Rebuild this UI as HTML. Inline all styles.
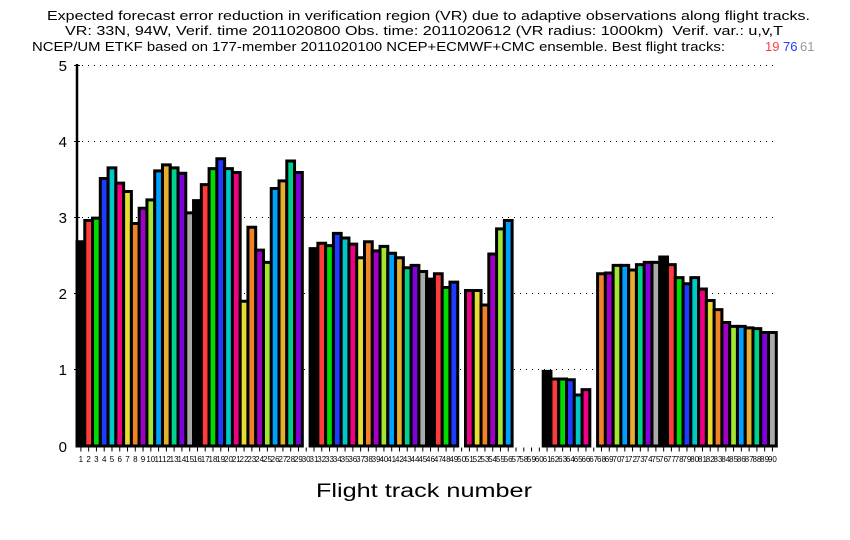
<!DOCTYPE html>
<html><head><meta charset="utf-8"><style>
html,body{margin:0;padding:0;background:#fff;}
svg{display:block;}
.t{font-family:"Liberation Sans",sans-serif;font-size:13px;fill:#000;}
.xl{font-family:"Liberation Sans",sans-serif;font-size:8px;fill:#000;text-anchor:middle;}
.yl{font-family:"Liberation Sans",sans-serif;font-size:15px;fill:#000;text-anchor:end;}
</style></head><body>
<svg width="850" height="540" viewBox="0 0 850 540" xmlns="http://www.w3.org/2000/svg">
<rect width="850" height="540" fill="#fff"/>
<text class="t" x="47" y="20" textLength="763" lengthAdjust="spacingAndGlyphs">Expected forecast error reduction in verification region (VR) due to adaptive observations along flight tracks.</text>
<text class="t" x="65" y="35" textLength="718" lengthAdjust="spacingAndGlyphs">VR: 33N, 94W, Verif. time 2011020800 Obs. time: 2011020612 (VR radius: 1000km)&#160; Verif. var.: u,v,T</text>
<text class="t" x="32" y="51" textLength="693" lengthAdjust="spacingAndGlyphs">NCEP/UM ETKF based on 177-member 2011020100 NCEP+ECMWF+CMC ensemble. Best flight tracks:</text>
<text class="t" x="765" y="51" style="fill:#ff3c3c">19</text>
<text class="t" x="783" y="51" style="fill:#1e3cff">76</text>
<text class="t" x="800" y="51" style="fill:#999">61</text>

<g stroke="#000" stroke-width="1" stroke-dasharray="1 5">
<line x1="82" y1="65.5" x2="778" y2="65.5"/>
<line x1="82" y1="141.5" x2="778" y2="141.5"/>
<line x1="82" y1="217.5" x2="778" y2="217.5"/>
<line x1="82" y1="293.5" x2="778" y2="293.5"/>
<line x1="82" y1="369.5" x2="778" y2="369.5"/>
</g>

<g transform="translate(77 446) scale(7.77 -76.2)">
<g stroke="#000" stroke-width="3" stroke-linejoin="miter">
<rect x="0" width="1" height="2.68" fill="#000" vector-effect="non-scaling-stroke"/>
<rect x="1" width="1" height="2.96" fill="#ff3c3c" vector-effect="non-scaling-stroke"/>
<rect x="2" width="1" height="2.99" fill="#00dc00" vector-effect="non-scaling-stroke"/>
<rect x="3" width="1" height="3.51" fill="#1e3cff" vector-effect="non-scaling-stroke"/>
<rect x="4" width="1" height="3.65" fill="#00c8c8" vector-effect="non-scaling-stroke"/>
<rect x="5" width="1" height="3.45" fill="#f00082" vector-effect="non-scaling-stroke"/>
<rect x="6" width="1" height="3.34" fill="#e6dc32" vector-effect="non-scaling-stroke"/>
<rect x="7" width="1" height="2.92" fill="#f08228" vector-effect="non-scaling-stroke"/>
<rect x="8" width="1" height="3.12" fill="#a000c8" vector-effect="non-scaling-stroke"/>
<rect x="9" width="1" height="3.23" fill="#a0e632" vector-effect="non-scaling-stroke"/>
<rect x="10" width="1" height="3.61" fill="#00a0ff" vector-effect="non-scaling-stroke"/>
<rect x="11" width="1" height="3.69" fill="#e6af2d" vector-effect="non-scaling-stroke"/>
<rect x="12" width="1" height="3.65" fill="#00d28c" vector-effect="non-scaling-stroke"/>
<rect x="13" width="1" height="3.58" fill="#8200dc" vector-effect="non-scaling-stroke"/>
<rect x="14" width="1" height="3.06" fill="#aaaaaa" vector-effect="non-scaling-stroke"/>
<rect x="15" width="1" height="3.22" fill="#000" vector-effect="non-scaling-stroke"/>
<rect x="16" width="1" height="3.43" fill="#ff3c3c" vector-effect="non-scaling-stroke"/>
<rect x="17" width="1" height="3.64" fill="#00dc00" vector-effect="non-scaling-stroke"/>
<rect x="18" width="1" height="3.77" fill="#1e3cff" vector-effect="non-scaling-stroke"/>
<rect x="19" width="1" height="3.64" fill="#00c8c8" vector-effect="non-scaling-stroke"/>
<rect x="20" width="1" height="3.59" fill="#f00082" vector-effect="non-scaling-stroke"/>
<rect x="21" width="1" height="1.90" fill="#e6dc32" vector-effect="non-scaling-stroke"/>
<rect x="22" width="1" height="2.87" fill="#f08228" vector-effect="non-scaling-stroke"/>
<rect x="23" width="1" height="2.57" fill="#a000c8" vector-effect="non-scaling-stroke"/>
<rect x="24" width="1" height="2.41" fill="#a0e632" vector-effect="non-scaling-stroke"/>
<rect x="25" width="1" height="3.38" fill="#00a0ff" vector-effect="non-scaling-stroke"/>
<rect x="26" width="1" height="3.48" fill="#e6af2d" vector-effect="non-scaling-stroke"/>
<rect x="27" width="1" height="3.74" fill="#00d28c" vector-effect="non-scaling-stroke"/>
<rect x="28" width="1" height="3.59" fill="#8200dc" vector-effect="non-scaling-stroke"/>
<rect x="30" width="1" height="2.59" fill="#000" vector-effect="non-scaling-stroke"/>
<rect x="31" width="1" height="2.66" fill="#ff3c3c" vector-effect="non-scaling-stroke"/>
<rect x="32" width="1" height="2.63" fill="#00dc00" vector-effect="non-scaling-stroke"/>
<rect x="33" width="1" height="2.79" fill="#1e3cff" vector-effect="non-scaling-stroke"/>
<rect x="34" width="1" height="2.73" fill="#00c8c8" vector-effect="non-scaling-stroke"/>
<rect x="35" width="1" height="2.65" fill="#f00082" vector-effect="non-scaling-stroke"/>
<rect x="36" width="1" height="2.47" fill="#e6dc32" vector-effect="non-scaling-stroke"/>
<rect x="37" width="1" height="2.68" fill="#f08228" vector-effect="non-scaling-stroke"/>
<rect x="38" width="1" height="2.56" fill="#a000c8" vector-effect="non-scaling-stroke"/>
<rect x="39" width="1" height="2.62" fill="#a0e632" vector-effect="non-scaling-stroke"/>
<rect x="40" width="1" height="2.53" fill="#00a0ff" vector-effect="non-scaling-stroke"/>
<rect x="41" width="1" height="2.47" fill="#e6af2d" vector-effect="non-scaling-stroke"/>
<rect x="42" width="1" height="2.34" fill="#00d28c" vector-effect="non-scaling-stroke"/>
<rect x="43" width="1" height="2.37" fill="#8200dc" vector-effect="non-scaling-stroke"/>
<rect x="44" width="1" height="2.29" fill="#aaaaaa" vector-effect="non-scaling-stroke"/>
<rect x="45" width="1" height="2.19" fill="#000" vector-effect="non-scaling-stroke"/>
<rect x="46" width="1" height="2.26" fill="#ff3c3c" vector-effect="non-scaling-stroke"/>
<rect x="47" width="1" height="2.08" fill="#00dc00" vector-effect="non-scaling-stroke"/>
<rect x="48" width="1" height="2.15" fill="#1e3cff" vector-effect="non-scaling-stroke"/>
<rect x="50" width="1" height="2.04" fill="#f00082" vector-effect="non-scaling-stroke"/>
<rect x="51" width="1" height="2.04" fill="#e6dc32" vector-effect="non-scaling-stroke"/>
<rect x="52" width="1" height="1.85" fill="#f08228" vector-effect="non-scaling-stroke"/>
<rect x="53" width="1" height="2.52" fill="#a000c8" vector-effect="non-scaling-stroke"/>
<rect x="54" width="1" height="2.85" fill="#a0e632" vector-effect="non-scaling-stroke"/>
<rect x="55" width="1" height="2.96" fill="#00a0ff" vector-effect="non-scaling-stroke"/>
<rect x="60" width="1" height="0.98" fill="#000" vector-effect="non-scaling-stroke"/>
<rect x="61" width="1" height="0.88" fill="#ff3c3c" vector-effect="non-scaling-stroke"/>
<rect x="62" width="1" height="0.88" fill="#00dc00" vector-effect="non-scaling-stroke"/>
<rect x="63" width="1" height="0.87" fill="#1e3cff" vector-effect="non-scaling-stroke"/>
<rect x="64" width="1" height="0.67" fill="#00c8c8" vector-effect="non-scaling-stroke"/>
<rect x="65" width="1" height="0.74" fill="#f00082" vector-effect="non-scaling-stroke"/>
<rect x="67" width="1" height="2.26" fill="#f08228" vector-effect="non-scaling-stroke"/>
<rect x="68" width="1" height="2.27" fill="#a000c8" vector-effect="non-scaling-stroke"/>
<rect x="69" width="1" height="2.37" fill="#a0e632" vector-effect="non-scaling-stroke"/>
<rect x="70" width="1" height="2.37" fill="#00a0ff" vector-effect="non-scaling-stroke"/>
<rect x="71" width="1" height="2.31" fill="#e6af2d" vector-effect="non-scaling-stroke"/>
<rect x="72" width="1" height="2.38" fill="#00d28c" vector-effect="non-scaling-stroke"/>
<rect x="73" width="1" height="2.41" fill="#8200dc" vector-effect="non-scaling-stroke"/>
<rect x="74" width="1" height="2.41" fill="#aaaaaa" vector-effect="non-scaling-stroke"/>
<rect x="75" width="1" height="2.48" fill="#000" vector-effect="non-scaling-stroke"/>
<rect x="76" width="1" height="2.38" fill="#ff3c3c" vector-effect="non-scaling-stroke"/>
<rect x="77" width="1" height="2.21" fill="#00dc00" vector-effect="non-scaling-stroke"/>
<rect x="78" width="1" height="2.13" fill="#1e3cff" vector-effect="non-scaling-stroke"/>
<rect x="79" width="1" height="2.21" fill="#00c8c8" vector-effect="non-scaling-stroke"/>
<rect x="80" width="1" height="2.06" fill="#f00082" vector-effect="non-scaling-stroke"/>
<rect x="81" width="1" height="1.91" fill="#e6dc32" vector-effect="non-scaling-stroke"/>
<rect x="82" width="1" height="1.79" fill="#f08228" vector-effect="non-scaling-stroke"/>
<rect x="83" width="1" height="1.62" fill="#a000c8" vector-effect="non-scaling-stroke"/>
<rect x="84" width="1" height="1.57" fill="#a0e632" vector-effect="non-scaling-stroke"/>
<rect x="85" width="1" height="1.57" fill="#00a0ff" vector-effect="non-scaling-stroke"/>
<rect x="86" width="1" height="1.55" fill="#e6af2d" vector-effect="non-scaling-stroke"/>
<rect x="87" width="1" height="1.54" fill="#00d28c" vector-effect="non-scaling-stroke"/>
<rect x="88" width="1" height="1.49" fill="#8200dc" vector-effect="non-scaling-stroke"/>
<rect x="89" width="1" height="1.49" fill="#aaaaaa" vector-effect="non-scaling-stroke"/>
</g>
</g>

<line x1="77" y1="64" x2="77" y2="447" stroke="#000" stroke-width="2.5"/>
<g stroke="#000" stroke-width="1">
<line x1="74" y1="65.5" x2="80" y2="65.5"/>
<line x1="74" y1="141.5" x2="80" y2="141.5"/>
<line x1="74" y1="217.5" x2="80" y2="217.5"/>
<line x1="74" y1="293.5" x2="80" y2="293.5"/>
<line x1="74" y1="369.5" x2="80" y2="369.5"/>
</g>
<line x1="80.4" y1="449.5" x2="778" y2="449.5" stroke="#000" stroke-width="4" stroke-dasharray="1 6.77"/>
<text class="yl" x="67" y="71">5</text>
<text class="yl" x="67" y="147">4</text>
<text class="yl" x="67" y="223">3</text>
<text class="yl" x="67" y="299">2</text>
<text class="yl" x="67" y="375">1</text>
<text class="yl" x="67" y="452">0</text>

<g class="xl">
<text class="xl" x="80.9" y="462">1</text><text class="xl" x="88.6" y="462">2</text><text class="xl" x="96.4" y="462">3</text><text class="xl" x="104.2" y="462">4</text><text class="xl" x="112.0" y="462">5</text><text class="xl" x="119.7" y="462">6</text><text class="xl" x="127.5" y="462">7</text><text class="xl" x="135.3" y="462">8</text><text class="xl" x="143.0" y="462">9</text>
<text class="xl" x="150.8" y="462">10</text><text class="xl" x="158.6" y="462">11</text><text class="xl" x="166.4" y="462">12</text><text class="xl" x="174.1" y="462">13</text><text class="xl" x="181.9" y="462">14</text><text class="xl" x="189.7" y="462">15</text><text class="xl" x="197.4" y="462">16</text><text class="xl" x="205.2" y="462">17</text><text class="xl" x="213.0" y="462">18</text><text class="xl" x="220.7" y="462">19</text>
<text class="xl" x="228.5" y="462">20</text><text class="xl" x="236.3" y="462">21</text><text class="xl" x="244.0" y="462">22</text><text class="xl" x="251.8" y="462">23</text><text class="xl" x="259.6" y="462">24</text><text class="xl" x="267.4" y="462">25</text><text class="xl" x="275.1" y="462">26</text><text class="xl" x="282.9" y="462">27</text><text class="xl" x="290.7" y="462">28</text><text class="xl" x="298.4" y="462">29</text>
<text class="xl" x="306.2" y="462">30</text><text class="xl" x="314.0" y="462">31</text><text class="xl" x="321.7" y="462">32</text><text class="xl" x="329.5" y="462">33</text><text class="xl" x="337.3" y="462">34</text><text class="xl" x="345.1" y="462">35</text><text class="xl" x="352.8" y="462">36</text><text class="xl" x="360.6" y="462">37</text><text class="xl" x="368.4" y="462">38</text><text class="xl" x="376.1" y="462">39</text>
<text class="xl" x="383.9" y="462">40</text><text class="xl" x="391.7" y="462">41</text><text class="xl" x="399.4" y="462">42</text><text class="xl" x="407.2" y="462">43</text><text class="xl" x="415.0" y="462">44</text><text class="xl" x="422.8" y="462">45</text><text class="xl" x="430.5" y="462">46</text><text class="xl" x="438.3" y="462">47</text><text class="xl" x="446.1" y="462">48</text><text class="xl" x="453.8" y="462">49</text>
<text class="xl" x="461.6" y="462">50</text><text class="xl" x="469.4" y="462">51</text><text class="xl" x="477.1" y="462">52</text><text class="xl" x="484.9" y="462">53</text><text class="xl" x="492.7" y="462">54</text><text class="xl" x="500.5" y="462">55</text><text class="xl" x="508.2" y="462">56</text><text class="xl" x="516.0" y="462">57</text><text class="xl" x="523.8" y="462">58</text><text class="xl" x="531.5" y="462">59</text>
<text class="xl" x="539.3" y="462">60</text><text class="xl" x="547.1" y="462">61</text><text class="xl" x="554.8" y="462">62</text><text class="xl" x="562.6" y="462">63</text><text class="xl" x="570.4" y="462">64</text><text class="xl" x="578.2" y="462">65</text><text class="xl" x="585.9" y="462">66</text><text class="xl" x="593.7" y="462">67</text><text class="xl" x="601.5" y="462">68</text><text class="xl" x="609.2" y="462">69</text>
<text class="xl" x="617.0" y="462">70</text><text class="xl" x="624.8" y="462">71</text><text class="xl" x="632.5" y="462">72</text><text class="xl" x="640.3" y="462">73</text><text class="xl" x="648.1" y="462">74</text><text class="xl" x="655.9" y="462">75</text><text class="xl" x="663.6" y="462">76</text><text class="xl" x="671.4" y="462">77</text><text class="xl" x="679.2" y="462">78</text><text class="xl" x="686.9" y="462">79</text>
<text class="xl" x="694.7" y="462">80</text><text class="xl" x="702.5" y="462">81</text><text class="xl" x="710.2" y="462">82</text><text class="xl" x="718.0" y="462">83</text><text class="xl" x="725.8" y="462">84</text><text class="xl" x="733.6" y="462">85</text><text class="xl" x="741.3" y="462">86</text><text class="xl" x="749.1" y="462">87</text><text class="xl" x="756.9" y="462">88</text><text class="xl" x="764.6" y="462">89</text>
<text class="xl" x="772.4" y="462">90</text>
</g>

<text x="316" y="497" textLength="216" lengthAdjust="spacingAndGlyphs" style="font-family:'Liberation Sans',sans-serif;font-size:19px;fill:#000;">Flight track number</text>
</svg>
</body></html>
